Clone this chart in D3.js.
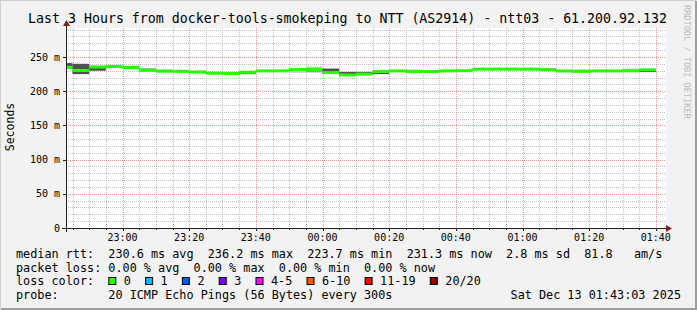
<!DOCTYPE html>
<html>
<head>
<meta charset="utf-8">
<script src="https://cdn.jsdelivr.net/npm/d3@7"></script>
<style>
  body { margin: 0; background: #f2f2f2; }
  svg { display: block; }
  text { font-family: "DejaVu Sans Mono", monospace; fill: #000; white-space: pre; }
</style>
</head>
<body>
<svg width="697" height="310"></svg>
<script>
// smokeping rrd values, one per 5 minute step (ms)
var median = [235, 230.3, 235.4, 236.2, 234.5, 230.5, 229.3, 229, 228, 226.4, 226, 227.7,
  229.7, 229.7, 231.7, 231.5, 227.3, 223.7, 225, 228.7, 229.7, 228.7, 228.8, 229.7,
  230, 232.2, 232.2, 232.2, 232.2, 231.4, 229.6, 229, 229.6, 229.6, 229.8, 231.3];
var smokeHi = [241, 240, 236, 237, 237, 233, 232, 231, 230, 228, 227, 229,
  231, 231, 233, 236, 233, 229, 229, 230, 231, 232, 231, 231,
  231, 233, 233, 233, 233, 234, 231, 232, 231, 231, 233, 232];
var smokeLo = [233, 225, 230, 235, 233, 229, 228, 228, 227, 225, 225, 225,
  229, 229, 227, 227, 226, 223, 224, 225, 229, 228, 228, 229,
  229, 231, 231, 231, 231, 230, 228, 228, 229, 229, 229, 228];
var coreHi = [241, 240, 236, 237, 237, 233, 230, 230, 229, 227, 227, 228,
  230, 230, 232, 233, 233, 228, 228, 229, 230, 229, 231, 230,
  230, 232, 232, 232, 233, 232, 230, 229, 230, 230, 230, 231];
var coreLo = [233, 225, 230, 235, 234, 230, 228, 228, 227, 225, 225, 225,
  229, 229, 230, 229, 226, 223, 224, 225, 229, 228, 228, 229,
  229, 231, 231, 231, 231, 230, 228, 228, 229, 229, 229, 228];

var yTicks = [0, 50, 100, 150, 200, 250];
var lossLabels = ["0", "1", "2", "3", "4-5", "6-10", "11-19", "20/20"];
var lossColors = ["#26ff00", "#00b8ff", "#0059ff", "#7e00ff", "#ff00ff", "#ff5500", "#ff0000", "#a10000"];

var title = "Last 3 Hours from docker-tools-smokeping to NTT (AS2914) - ntt03 - 61.200.92.132";
var legendRows = [
  "median rtt:  230.6 ms avg  236.2 ms max  223.7 ms min  231.3 ms now  2.8 ms sd  81.8   am/s",
  "packet loss: 0.00 % avg  0.00 % max  0.00 % min  0.00 % now",
  "loss color:",
  "probe:       20 ICMP Echo Pings (56 Bytes) every 300s"
];
var stamp = "Sat Dec 13 01:43:03 2025";

var width = 697, height = 310;
var tStart = Date.UTC(2025, 11, 12, 22, 43, 3);
var tEnd = tStart + 3 * 3600e3;
var firstStep = Date.UTC(2025, 11, 12, 22, 45, 0);

var x = d3.scaleUtc().domain([tStart, tEnd]).range([66, 666]);
var y = d3.scaleLinear().domain([0, 292.4]).range([228, 28]);

var svg = d3.select("svg");

// frame
svg.append("rect").attr("width", width).attr("height", height).attr("fill", "#f2f2f2");
svg.append("path").attr("d", "M0,309V0H696").attr("stroke", "#cfcfcf").attr("stroke-width", 2).attr("fill", "none");
svg.append("path").attr("d", "M1,309H696V1").attr("stroke", "#9e9e9e").attr("stroke-width", 2).attr("fill", "none");

// canvas
svg.append("rect").attr("x", 66).attr("y", 28).attr("width", 600).attr("height", 200).attr("fill", "#fff");

// grid
var minorY = d3.range(10, 292, 10).filter(d => d % 50);
svg.selectAll(".gy").data(minorY).join("line")
  .attr("x1", 66).attr("x2", 666)
  .attr("y1", d => Math.round(y(d)) + 0.5).attr("y2", d => Math.round(y(d)) + 0.5)
  .attr("stroke", "rgba(143,143,143,0.55)").attr("stroke-dasharray", "1,1");
var minorX = d3.utcMinute.every(5).range(new Date(tStart), new Date(tEnd)).filter(d => d.getUTCMinutes() % 20);
svg.selectAll(".gx").data(minorX).join("line")
  .attr("x1", d => Math.round(x(d)) + 0.5).attr("x2", d => Math.round(x(d)) + 0.5)
  .attr("y1", 28).attr("y2", 228)
  .attr("stroke", "rgba(143,143,143,0.55)").attr("stroke-dasharray", "1,1");
svg.selectAll(".my").data(yTicks.slice(1)).join("line")
  .attr("x1", 66).attr("x2", 666)
  .attr("y1", d => Math.round(y(d)) + 0.5).attr("y2", d => Math.round(y(d)) + 0.5)
  .attr("stroke", "rgba(222,79,79,0.6)").attr("stroke-dasharray", "1,1");
var majorX = d3.utcMinute.every(20).range(new Date(tStart), new Date(tEnd));
svg.selectAll(".mx").data(majorX).join("line")
  .attr("x1", d => Math.round(x(d)) + 0.5).attr("x2", d => Math.round(x(d)) + 0.5)
  .attr("y1", 28).attr("y2", 228)
  .attr("stroke", "rgba(222,79,79,0.6)").attr("stroke-dasharray", "1,1");

// smoke + median, step per rrd interval
var segs = median.map(function(m, i) {
  return {
    t0: i == 0 ? tStart : firstStep + (i - 1) * 300e3,
    t1: firstStep + i * 300e3,
    med: m, hi: smokeHi[i], lo: smokeLo[i], chi: coreHi[i], clo: coreLo[i]
  };
});
svg.selectAll(".smoke").data(segs).join("rect")
  .attr("x", d => x(d.t0)).attr("width", d => x(d.t1) - x(d.t0))
  .attr("y", d => y(d.hi)).attr("height", d => y(d.lo) - y(d.hi))
  .attr("fill", "#c8c8c8");
svg.selectAll(".core").data(segs).join("rect")
  .attr("x", d => x(d.t0)).attr("width", d => x(d.t1) - x(d.t0))
  .attr("y", d => y(d.chi)).attr("height", d => y(d.clo) - y(d.chi))
  .attr("fill", "#505050");
svg.selectAll(".med").data(segs).join("rect")
  .attr("x", d => x(d.t0)).attr("width", d => x(d.t1) - x(d.t0))
  .attr("y", d => y(d.med) - 1.5).attr("height", 3)
  .attr("fill", lossColors[0]);

// axes
svg.append("line").attr("x1", 62).attr("x2", 670).attr("y1", 228.5).attr("y2", 228.5).attr("stroke", "#1f1f1f");
svg.append("line").attr("x1", 66.5).attr("x2", 66.5).attr("y1", 232).attr("y2", 24).attr("stroke", "#1f1f1f");
svg.append("path").attr("d", "M666,225L672,228.5L666,232Z").attr("fill", "#801f1f");
svg.append("path").attr("d", "M63,26L66.5,20L70,26Z").attr("fill", "#801f1f");

svg.selectAll(".yt").data(yTicks).join("line")
  .attr("x1", 63).attr("x2", 66)
  .attr("y1", d => Math.round(y(d)) + 0.5).attr("y2", d => Math.round(y(d)) + 0.5)
  .attr("stroke", "#1f1f1f");
svg.selectAll(".xt").data(majorX).join("line")
  .attr("x1", d => Math.round(x(d)) + 0.5).attr("x2", d => Math.round(x(d)) + 0.5)
  .attr("y1", 228).attr("y2", 231)
  .attr("stroke", "#1f1f1f");
svg.selectAll(".xtm").data(minorX).join("line")
  .attr("x1", d => Math.round(x(d)) + 0.5).attr("x2", d => Math.round(x(d)) + 0.5)
  .attr("y1", 228).attr("y2", 230)
  .attr("stroke", "#1f1f1f");

svg.selectAll(".yl").data(yTicks).join("text")
  .attr("x", 60).attr("y", d => y(d) + 3.6)
  .attr("text-anchor", "end").attr("font-size", 10)
  .text(d => d == 0 ? "0" : d + " m");
var fmt = d3.utcFormat("%H:%M");
svg.selectAll(".xl").data(majorX).join("text")
  .attr("x", d => x(d)).attr("y", 241)
  .attr("text-anchor", "middle").attr("font-size", 10)
  .text(d => fmt(d));

// titles
svg.append("text").attr("x", 347.5).attr("y", 23.3).attr("text-anchor", "middle")
  .attr("font-size", 13.28).text(title);
svg.append("text").attr("transform", "translate(14,127) rotate(-90)")
  .attr("text-anchor", "middle").attr("font-size", 11.5).text("Seconds");
svg.append("text").attr("transform", "translate(684,5) rotate(90)")
  .attr("font-size", 8.6).style("fill", "#bdbdbd").text("RRDTOOL / TOBI OETIKER");

// legend
var cw = 7.1, rowY = [258, 271.5, 285, 299];
legendRows.forEach(function(r, i) {
  svg.append("text").attr("x", 16).attr("y", rowY[i]).attr("font-size", 11.8).text(r);
});
var bx = 16 + 13 * cw;
lossLabels.forEach(function(l, i) {
  svg.append("rect").attr("x", bx + 0.5).attr("y", 277.5).attr("width", 7).attr("height", 7)
    .attr("fill", lossColors[i]).attr("stroke", "#000");
  svg.append("text").attr("x", bx + 15.5).attr("y", rowY[2]).attr("font-size", 11.8).text(l);
  bx += 15.5 + l.length * cw + 2 * cw;
});
svg.append("text").attr("x", 681).attr("y", rowY[3]).attr("text-anchor", "end")
  .attr("font-size", 11.8).text(stamp);
</script>
</body>
</html>
